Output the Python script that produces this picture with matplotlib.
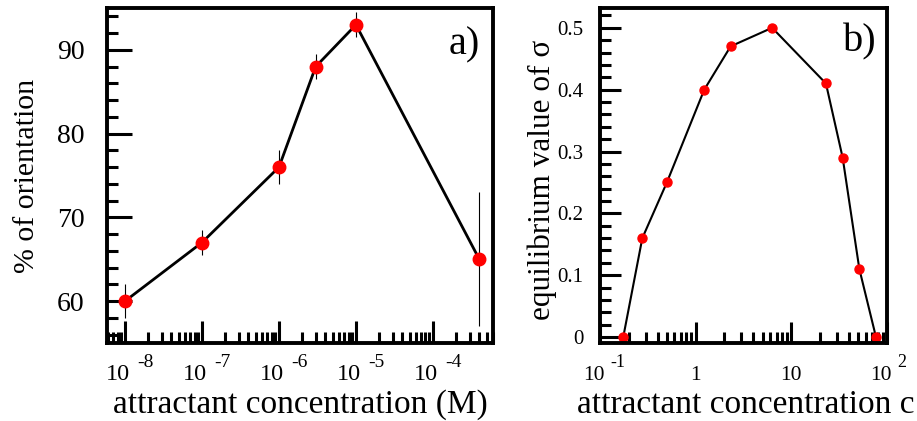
import matplotlib
matplotlib.use("Agg")
import matplotlib.pyplot as plt
from matplotlib.ticker import FixedLocator, MultipleLocator, LogLocator, NullFormatter

plt.rcParams['font.family'] = ['Liberation Serif', 'DejaVu Serif']

# panel a: orientation vs attractant concentration (M)
conc_a = [1e-8, 1e-7, 1e-6, 3e-6, 1e-5, 4e-4]
orient = [60, 67, 76, 88, 93, 65]
orient_err = [2, 1.5, 2, 1.5, 1.5, 8]
xticks_a = [1e-8, 1e-7, 1e-6, 1e-5, 1e-4]
xexp_a = ['-8', '-7', '-6', '-5', '-4']

# panel b: equilibrium sigma vs attractant concentration c
conc_b = [0.175, 0.277, 0.50, 1.23, 2.32, 6.3, 23.0, 34.4, 51.4, 76.7]
sigma = [0.0, 0.16, 0.25, 0.40, 0.47, 0.50, 0.41, 0.29, 0.11, 0.0]
xticks_b = [0.1, 1, 10, 100]
xbase_b = ['10', '1', '10', '10']
xexp_b = ['-1', '', '', '2']


def tick_label(ax, x, base, exp, size, sup_size, base_off, sup_off):
    # "10" sits left of the tick, exponent raised to the right of it
    if exp:
        ax.annotate(base, xy=(x, 0), xycoords=('data', 'axes fraction'),
                    xytext=(base_off, -26.5), textcoords='offset points',
                    ha='right', va='baseline', fontsize=size)
        ax.annotate(exp, xy=(x, 0), xycoords=('data', 'axes fraction'),
                    xytext=(sup_off, -17.3), textcoords='offset points',
                    ha='left', va='baseline', fontsize=sup_size)
    else:
        ax.annotate(base, xy=(x, 0), xycoords=('data', 'axes fraction'),
                    xytext=(0, -26.5), textcoords='offset points',
                    ha='center', va='baseline', fontsize=size)


fig = plt.figure(figsize=(9.17, 4.21), dpi=100)
W, H = 917, 421
ax1 = fig.add_axes([107 / W, 1 - 343 / H, (493 - 107) / W, (343 - 8) / H])
ax2 = fig.add_axes([600 / W, 1 - 343 / H, (887 - 600) / W, (343 - 8) / H])

for ax in (ax1, ax2):
    for s in ax.spines.values():
        s.set_linewidth(2.8)
    ax.tick_params(which='both', direction='in', top=False, right=False, width=2.2)

# --- a) ---
ax1.errorbar(conc_a, orient, yerr=orient_err, fmt='none', ecolor='black', elinewidth=0.8, capsize=0)
ax1.plot(conc_a, orient, color='black', lw=2)
ax1.plot(conc_a, orient, 'o', color='red', ms=9, mec='red')
ax1.set_xscale('log')
ax1.set_xlim(10 ** -8.234, 10 ** -3.22)
ax1.set_ylim(55, 95)
ax1.xaxis.set_major_locator(FixedLocator(xticks_a))
ax1.xaxis.set_major_formatter(NullFormatter())
ax1.xaxis.set_minor_locator(LogLocator(base=10, subs=range(2, 10), numticks=20))
ax1.xaxis.set_minor_formatter(NullFormatter())
ax1.yaxis.set_major_locator(MultipleLocator(10))
ax1.yaxis.set_minor_locator(MultipleLocator(2))
ax1.tick_params(axis='y', which='major', length=18, labelsize=20, pad=16)
ax1.tick_params(axis='y', which='minor', length=8)
ax1.tick_params(axis='x', which='major', length=16)
ax1.tick_params(axis='x', which='minor', length=8)
for x, e in zip(xticks_a, xexp_a):
    tick_label(ax1, x, '10', e, 17.5, 14, 3.6, 8.6)
ax1.set_ylabel('% of orientation', fontsize=21.5, va='center')
ax1.yaxis.set_label_coords(-0.207, 0.5)
ax1.set_xlabel('attractant concentration (M)', fontsize=24, va='baseline')
ax1.xaxis.set_label_coords(0.5, -0.209)
ax1.text(0.966, 0.89, 'a)', transform=ax1.transAxes, ha='right', va='center', fontsize=29)

# --- b) ---
ax2.plot(conc_b, sigma, color='black', lw=1.5)
ax2.plot(conc_b, sigma, 'o', color='red', ms=6.5, mec='red')
ax2.set_xscale('log')
ax2.set_xlim(0.1, 100)
ax2.set_ylim(-0.0096, 0.532)
ax2.xaxis.set_major_locator(FixedLocator(xticks_b))
ax2.xaxis.set_major_formatter(NullFormatter())
ax2.xaxis.set_minor_locator(LogLocator(base=10, subs=range(2, 10), numticks=20))
ax2.xaxis.set_minor_formatter(NullFormatter())
ax2.yaxis.set_major_locator(MultipleLocator(0.1))
ax2.yaxis.set_minor_locator(MultipleLocator(0.02))
ax2.yaxis.set_major_formatter(plt.FuncFormatter(lambda v, p: '0' if abs(v) < 1e-9 else f'{v:.1f}'))
ax2.tick_params(axis='y', which='major', length=15, labelsize=15, pad=12)
ax2.tick_params(axis='y', which='minor', length=8)
ax2.tick_params(axis='x', which='major', length=15)
ax2.tick_params(axis='x', which='minor', length=8)
for x, b, e in zip(xticks_b, xbase_b, xexp_b):
    tick_label(ax2, x, b, e, 15.5, 13, 3.6, 7.2)
ax2.set_ylabel('equilibrium value of σ', fontsize=22.5, va='center')
ax2.yaxis.set_label_coords(-0.202, 0.487)
ax2.set_xlabel('attractant concentration c', fontsize=24, ha='left', va='baseline')
ax2.xaxis.set_label_coords(-0.080, -0.209)
ax2.text(0.965, 0.898, 'b)', transform=ax2.transAxes, ha='right', va='center', fontsize=29)

fig.savefig('out.png', dpi=100)
